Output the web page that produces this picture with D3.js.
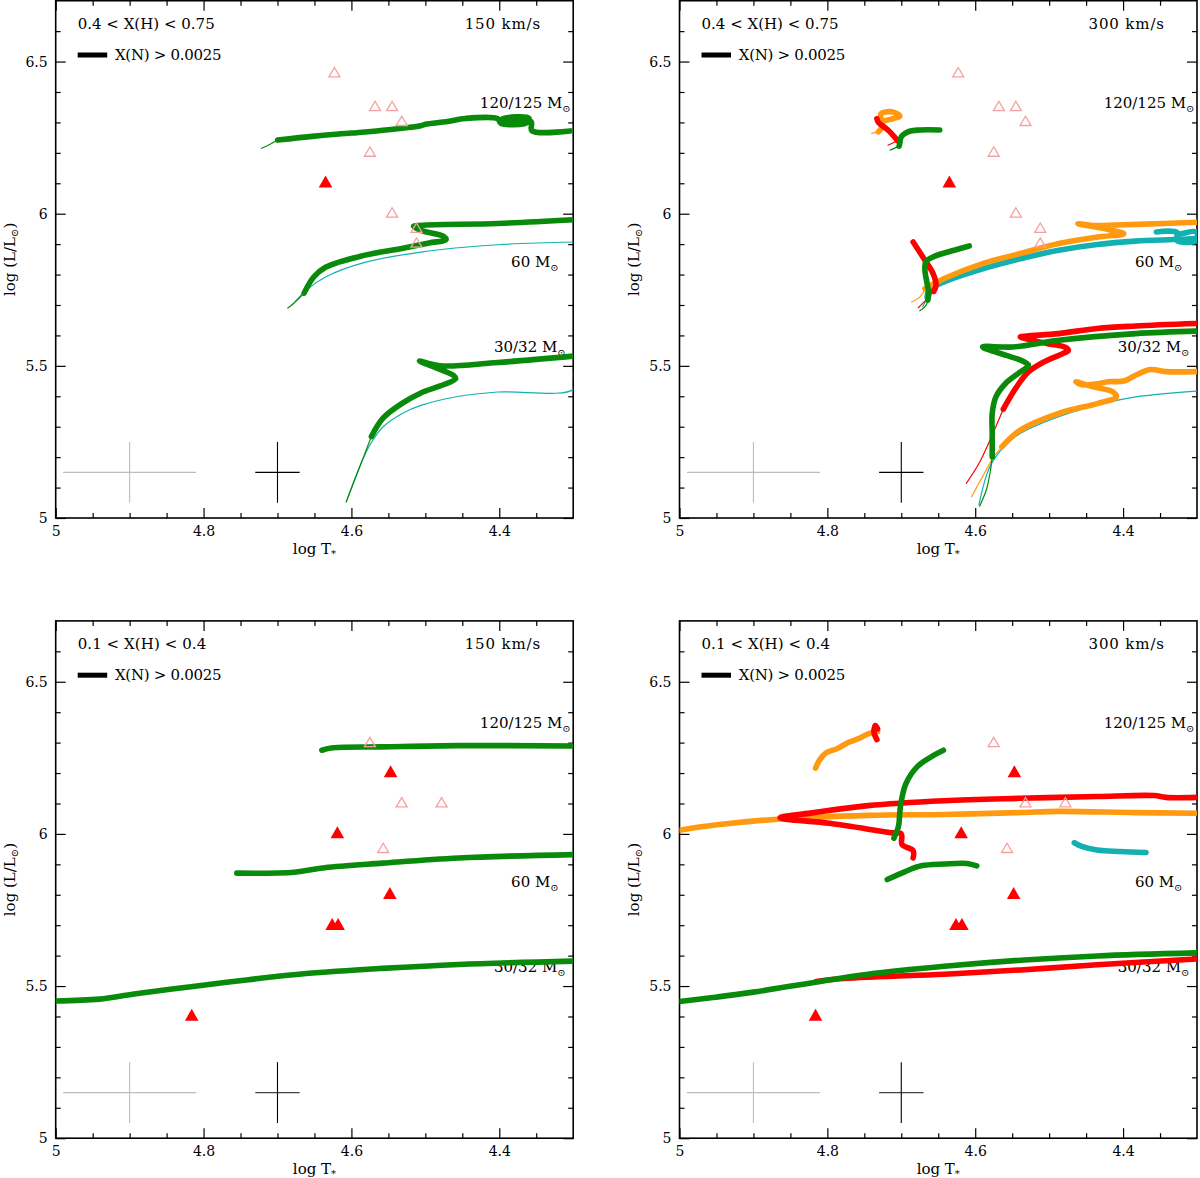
<!DOCTYPE html>
<html><head><meta charset="utf-8">
<script src="https://cdn.jsdelivr.net/npm/d3@7/dist/d3.min.js"></script>
<style>
html,body{margin:0;padding:0;background:#fff;}
text{font-family:"DejaVu Serif",serif;fill:#000;}
</style></head>
<body>
<svg id="chart" width="1200" height="1178"></svg>
<script>
// ---------- axis / tick data ----------
const xDomain = [5, 4.3];
const yDomain = [5, 6.7];
const xMajorTicks = [5, 4.8, 4.6, 4.4];
const xMinorTicks = [4.95, 4.9, 4.85, 4.75, 4.7, 4.65, 4.55, 4.5, 4.45, 4.35];
const yMajorTicks = [5, 5.5, 6, 6.5];
const yMinorTicks = [5.1, 5.2, 5.3, 5.4, 5.6, 5.7, 5.8, 5.9, 6.1, 6.2, 6.3, 6.4, 6.6];

// ---------- panel texts ----------
const panelHRange = ["0.4 < X(H) < 0.75", "0.4 < X(H) < 0.75", "0.1 < X(H) < 0.4", "0.1 < X(H) < 0.4"];
const panelVelocity = ["150 km/s", "300 km/s", "150 km/s", "300 km/s"];
const legendText = "X(N) > 0.0025";
const massLabels = ["120/125", "60", "30/32"];

// ---------- observed stars ----------
const topOpenT = [4.623, 4.568, 4.545, 4.532, 4.575, 4.545, 4.512, 4.512];
const topOpenL = [6.464, 6.353, 6.353, 6.304, 6.203, 6.003, 5.953, 5.904];
const topFilledT = [4.635];
const topFilledL = [6.104];
const botOpenT = [4.575, 4.532, 4.478, 4.557];
const botOpenL = [6.301, 6.103, 6.103, 5.953];
const botFilledT = [4.547, 4.619, 4.548, 4.626, 4.618, 4.816];
const botFilledL = [6.204, 6.004, 5.804, 5.702, 5.702, 5.404];

// error crosses: [centerT, centerL, halfT, halfL]
const errGray = [4.9, 5.15, 0.09, 0.1];
const errBlack = [4.7, 5.15, 0.03, 0.1];

// ---------- tracks, top-left (150 km/s, 0.4<X<0.75) ----------
const tl120GreenThin = [[4.7215,6.215],[4.710,6.228],[4.6998,6.242]];
const tl120GreenThick = [[4.6998,6.242],[4.650,6.255],[4.600,6.265],[4.550,6.276],[4.506,6.289],[4.500,6.294],[4.470,6.303],[4.446,6.313],[4.402,6.312],[4.398,6.297],[4.362,6.300],[4.360,6.314],[4.396,6.311],[4.398,6.300],[4.357,6.303],[4.356,6.273],[4.304,6.272]];
const tl60GreenThin = [[4.686,5.690],[4.675,5.712],[4.664,5.739]];
const tl60GreenThick = [[4.664,5.739],[4.651,5.792],[4.635,5.824],[4.583,5.863],[4.532,5.886],[4.495,5.904],[4.472,5.915],[4.475,5.925],[4.506,5.945],[4.516,5.958],[4.505,5.962],[4.402,5.968],[4.300,5.980]];
const tl60Cyan = [[4.681,5.698],[4.661,5.749],[4.635,5.792],[4.583,5.839],[4.506,5.874],[4.402,5.898],[4.300,5.907]];
const tl30GreenThin = [[4.607,5.053],[4.590,5.160],[4.573,5.268]];
const tl30GreenThick = [[4.573,5.268],[4.557,5.329],[4.532,5.376],[4.506,5.411],[4.480,5.434],[4.459,5.458],[4.462,5.469],[4.485,5.493],[4.508,5.516],[4.480,5.500],[4.402,5.511],[4.300,5.532]];
const tl30Cyan = [[4.607,5.053],[4.592,5.150],[4.575,5.240],[4.557,5.300],[4.530,5.345],[4.506,5.370],[4.454,5.400],[4.402,5.414],[4.300,5.423],[4.300,5.475]];

// ---------- tracks, top-right (300 km/s, 0.4<X<0.75) ----------
const tr120OrangeThin = [[4.740,6.264],[4.731,6.269]];
const tr120OrangeThick = [[4.731,6.269],[4.725,6.291],[4.728,6.327],[4.713,6.335],[4.702,6.321],[4.715,6.310],[4.724,6.305]];
const tr120RedThin = [[4.718,6.225],[4.705,6.240]];
const tr120RedThick = [[4.705,6.240],[4.718,6.275],[4.731,6.300],[4.733,6.312]];
const tr120GreenThin = [[4.715,6.209],[4.703,6.222]];
const tr120GreenThick = [[4.703,6.222],[4.702,6.231],[4.700,6.253],[4.691,6.269],[4.675,6.275],[4.648,6.275]];
const tr60CyanThin = [[4.671,5.694],[4.665,5.725]];
const tr60CyanThick = [[4.665,5.725],[4.663,5.748],[4.642,5.776],[4.590,5.819],[4.539,5.852],[4.487,5.880],[4.435,5.899],[4.383,5.910],[4.332,5.915],[4.301,5.918]];
const tr60CyanHook = [[4.355,5.940],[4.327,5.938],[4.327,5.912],[4.301,5.912],[4.301,5.940],[4.327,5.930]];
const tr60OrangeThin = [[4.686,5.710],[4.675,5.726],[4.668,5.752]];
const tr60OrangeThick = [[4.668,5.754],[4.642,5.787],[4.590,5.836],[4.539,5.869],[4.487,5.902],[4.435,5.923],[4.399,5.934],[4.420,5.948],[4.461,5.967],[4.438,5.961],[4.420,5.962],[4.380,5.965],[4.301,5.972]];
const tr60RedThin = [[4.677,5.691],[4.669,5.710],[4.656,5.745]];
const tr60RedThick = [[4.656,5.745],[4.653,5.765],[4.657,5.803],[4.668,5.847],[4.684,5.907]];
const tr60GreenThin = [[4.675,5.681],[4.667,5.697],[4.664,5.716]];
const tr60GreenThick = [[4.664,5.716],[4.663,5.740],[4.665,5.770],[4.668,5.814],[4.667,5.841],[4.657,5.858],[4.637,5.874],[4.608,5.894]];
const tr30Cyan = [[4.595,5.043],[4.580,5.169],[4.559,5.240],[4.539,5.278],[4.487,5.333],[4.435,5.371],[4.383,5.398],[4.301,5.417]];
const tr30OrangeThin = [[4.605,5.070],[4.590,5.136],[4.575,5.201],[4.564,5.234]];
const tr30OrangeThick = [[4.564,5.234],[4.539,5.289],[4.487,5.344],[4.435,5.376],[4.409,5.398],[4.414,5.415],[4.440,5.431],[4.464,5.448],[4.456,5.438],[4.435,5.441],[4.420,5.448],[4.399,5.450],[4.383,5.469],[4.363,5.488],[4.342,5.481],[4.301,5.481]];
const tr30RedThin = [[4.612,5.114],[4.595,5.179],[4.580,5.256],[4.562,5.358]];
const tr30RedThick = [[4.562,5.358],[4.544,5.431],[4.528,5.480],[4.507,5.513],[4.482,5.540],[4.474,5.551],[4.479,5.562],[4.502,5.573],[4.523,5.584],[4.539,5.595],[4.530,5.598],[4.487,5.606],[4.435,5.623],[4.383,5.631],[4.301,5.639]];
const tr30GreenThin = [[4.594,5.039],[4.585,5.092],[4.580,5.147],[4.577,5.201]];
const tr30GreenThick = [[4.577,5.201],[4.577,5.278],[4.577,5.344],[4.572,5.398],[4.559,5.442],[4.539,5.480],[4.528,5.502],[4.539,5.519],[4.559,5.535],[4.590,5.562],[4.549,5.562],[4.487,5.584],[4.383,5.606],[4.301,5.614]];

// ---------- tracks, bottom-left (150 km/s, 0.1<X<0.4) ----------
const bl120Green = [[4.640,6.275],[4.625,6.283],[4.558,6.286],[4.455,6.290],[4.301,6.289]];
const bl60Green = [[4.755,5.871],[4.677,5.874],[4.636,5.889],[4.558,5.904],[4.455,5.921],[4.301,5.932]];
const bl30Green = [[5.0,5.451],[4.941,5.457],[4.894,5.474],[4.817,5.498],[4.739,5.521],[4.661,5.541],[4.558,5.558],[4.455,5.571],[4.301,5.582]];

// ---------- tracks, bottom-right (300 km/s, 0.1<X<0.4) ----------
const br60Cyan = [[4.466,5.971],[4.456,5.959],[4.435,5.947],[4.404,5.942],[4.369,5.939]];
const br120Orange = [[4.816,6.216],[4.810,6.245],[4.802,6.266],[4.787,6.280],[4.771,6.301],[4.756,6.315],[4.745,6.329],[4.732,6.336]];
const brOrangeLong = [[5.0,6.012],[4.952,6.029],[4.864,6.049],[4.745,6.061],[4.642,6.064],[4.539,6.070],[4.487,6.074],[4.383,6.070],[4.301,6.068]];
const br120RedShort = [[4.733,6.310],[4.737,6.335],[4.735,6.356],[4.732,6.345]];
const br120Red = [[4.684,5.921],[4.684,5.945],[4.699,5.965],[4.700,6.000],[4.714,6.004],[4.797,6.035],[4.864,6.053],[4.818,6.070],[4.745,6.093],[4.642,6.109],[4.539,6.117],[4.435,6.123],[4.358,6.126],[4.342,6.120],[4.301,6.120]];
const br30Red = [[4.815,5.515],[4.797,5.521],[4.745,5.529],[4.642,5.539],[4.539,5.553],[4.435,5.570],[4.301,5.589]];
const br120Green = [[4.710,5.986],[4.704,6.023],[4.701,6.093],[4.694,6.164],[4.678,6.222],[4.657,6.257],[4.643,6.275]];
const br60Green = [[4.719,5.850],[4.694,5.877],[4.673,5.895],[4.642,5.901],[4.611,5.903],[4.598,5.895]];
const br30Green = [[5.0,5.449],[4.952,5.463],[4.900,5.480],[4.818,5.512],[4.745,5.539],[4.642,5.565],[4.539,5.585],[4.435,5.599],[4.301,5.609]];

// ---------- styling ----------
const C = {green:"#0a8a0a", red:"#ff0000", orange:"#ff9a10", cyan:"#12b0b0", pink:"#f5a0a0"};
const THIN = 1.2, THICK = 5.6;

const panelTracks = [
  [ {p:tl60Cyan,c:"cyan",w:THIN},{p:tl30Cyan,c:"cyan",w:THIN},
    {p:tl120GreenThin,c:"green",w:THIN},{p:tl120GreenThick,c:"green",w:THICK},
    {p:tl60GreenThin,c:"green",w:THIN},{p:tl60GreenThick,c:"green",w:THICK},
    {p:tl30GreenThin,c:"green",w:THIN},{p:tl30GreenThick,c:"green",w:THICK} ],
  [ {p:tr30Cyan,c:"cyan",w:THIN},{p:tr60CyanThin,c:"cyan",w:THIN},{p:tr60CyanThick,c:"cyan",w:THICK},{p:tr60CyanHook,c:"cyan",w:THICK},
    {p:tr120OrangeThin,c:"orange",w:THIN},{p:tr120OrangeThick,c:"orange",w:THICK},
    {p:tr60OrangeThin,c:"orange",w:THIN},{p:tr60OrangeThick,c:"orange",w:THICK},
    {p:tr30OrangeThin,c:"orange",w:THIN},{p:tr30OrangeThick,c:"orange",w:THICK},
    {p:tr120RedThin,c:"red",w:THIN},{p:tr120RedThick,c:"red",w:THICK},
    {p:tr60RedThin,c:"red",w:THIN},{p:tr60RedThick,c:"red",w:THICK},
    {p:tr30RedThin,c:"red",w:THIN},{p:tr30RedThick,c:"red",w:THICK},
    {p:tr120GreenThin,c:"green",w:THIN},{p:tr120GreenThick,c:"green",w:THICK},
    {p:tr60GreenThin,c:"green",w:THIN},{p:tr60GreenThick,c:"green",w:THICK},
    {p:tr30GreenThin,c:"green",w:THIN},{p:tr30GreenThick,c:"green",w:THICK} ],
  [ {p:bl120Green,c:"green",w:THICK},{p:bl60Green,c:"green",w:THICK},{p:bl30Green,c:"green",w:THICK} ],
  [ {p:br60Cyan,c:"cyan",w:THICK},
    {p:br120Orange,c:"orange",w:THICK},{p:brOrangeLong,c:"orange",w:THICK},
    {p:br120RedShort,c:"red",w:THICK},{p:br120Red,c:"red",w:THICK},{p:br30Red,c:"red",w:THICK},
    {p:br120Green,c:"green",w:THICK},{p:br60Green,c:"green",w:THICK},{p:br30Green,c:"green",w:THICK} ]
];
const panelOpen = [[topOpenT,topOpenL],[topOpenT,topOpenL],[botOpenT,botOpenL],[botOpenT,botOpenL]];
const panelFilled = [[topFilledT,topFilledL],[topFilledT,topFilledL],[botFilledT,botFilledL],[botFilledT,botFilledL]];

// ---------- layout ----------
const PW = 517.5, PH = 517.3;
const origins = [[55.7,0.7],[679.5,0.7],[55.7,620.9],[679.5,620.9]];
const FONT = "'DejaVu Serif',serif";

const svg = d3.select("#chart");
const x = d3.scaleLinear().domain(xDomain).range([0, PW]);
const y = d3.scaleLinear().domain(yDomain).range([PH, 0]);
const line = d3.line().x(d => x(d[0])).y(d => y(d[1])).curve(d3.curveCatmullRom.alpha(0.5));

origins.forEach((o, i) => {
  const g = svg.append("g").attr("transform", `translate(${o[0]},${o[1]})`);
  const clipId = "clip" + i;
  g.append("clipPath").attr("id", clipId).append("rect").attr("width", PW).attr("height", PH);

  const fmt = d => String(+d.toFixed(2));
  const styleAxis = sel => { sel.select(".domain").remove(); sel.selectAll("line").attr("stroke","#000").attr("stroke-width",1.2);
    sel.selectAll("text").style("font-family",FONT).style("font-size","14px").attr("fill","#000"); };
  g.append("g").attr("transform",`translate(0,${PH})`).call(d3.axisBottom(x).tickValues(xMajorTicks).tickSize(-10).tickPadding(8).tickFormat(fmt)).call(styleAxis);
  g.append("g").attr("transform",`translate(0,${PH})`).call(d3.axisBottom(x).tickValues(xMinorTicks).tickSize(-5).tickFormat("")).call(styleAxis);
  g.append("g").call(d3.axisTop(x).tickValues(xMajorTicks).tickSize(-10).tickFormat("")).call(styleAxis);
  g.append("g").call(d3.axisTop(x).tickValues(xMinorTicks).tickSize(-5).tickFormat("")).call(styleAxis);
  g.append("g").call(d3.axisLeft(y).tickValues(yMajorTicks).tickSize(-10).tickPadding(8).tickFormat(fmt)).call(styleAxis);
  g.append("g").call(d3.axisLeft(y).tickValues(yMinorTicks).tickSize(-5).tickFormat("")).call(styleAxis);
  g.append("g").attr("transform",`translate(${PW},0)`).call(d3.axisRight(y).tickValues(yMajorTicks).tickSize(-10).tickFormat("")).call(styleAxis);
  g.append("g").attr("transform",`translate(${PW},0)`).call(d3.axisRight(y).tickValues(yMinorTicks).tickSize(-5).tickFormat("")).call(styleAxis);
  g.append("rect").attr("width", PW).attr("height", PH).attr("fill","none").attr("stroke","#000").attr("stroke-width",1.6);

  // axis titles
  const xt = g.append("text").attr("x", PW/2).attr("y", PH + 36).attr("text-anchor","middle").style("font-size","15px");
  xt.append("tspan").text("log T");
  xt.append("tspan").attr("dy", 3).style("font-size","10px").text("*");
  const yt = g.append("text").attr("transform", `translate(-41,${PH/2}) rotate(-90)`).attr("text-anchor","middle").style("font-size","15px");
  yt.append("tspan").text("log (L/L");
  yt.append("tspan").attr("dy", 3).style("font-size","10px").text("⊙");
  yt.append("tspan").attr("dy", -3).text(")");

  // panel texts
  g.append("text").attr("x", 22).attr("y", 28).style("font-size","15px")
    .attr("textLength", i < 2 ? 137 : 128.5).attr("lengthAdjust","spacing").text(panelHRange[i]);
  g.append("text").attr("x", 484.5).attr("y", 28).attr("text-anchor","end").style("font-size","15px")
    .attr("textLength", 75.5).attr("lengthAdjust","spacing").text(panelVelocity[i]);
  g.append("line").attr("x1", 22).attr("x2", 51.5).attr("y1", 54.3).attr("y2", 54.3).attr("stroke","#000").attr("stroke-width",5);
  g.append("text").attr("x", 59.3).attr("y", 59).style("font-size","15px")
    .attr("textLength", 106.5).attr("lengthAdjust","spacing").text(legendText);

  // mass labels (drawn under the tracks)
  const mlPos = [[515, 107.5], [503, 266.5], [510, 351.5]];
  massLabels.forEach((m, k) => {
    const t = g.append("text").attr("x", mlPos[k][0]).attr("y", mlPos[k][1]).attr("text-anchor","end").style("font-size","15px");
    t.append("tspan").text(m + " M");
    t.append("tspan").attr("dy", 4).style("font-size","10px").text("⊙");
  });

  // error crosses
  [[errGray,"#bdbdbd"],[errBlack,"#000"]].forEach(([e,col]) => {
    g.append("line").attr("x1", x(e[0]-e[2])).attr("x2", x(e[0]+e[2])).attr("y1", y(e[1])).attr("y2", y(e[1]))
      .attr("stroke", i >= 2 && col === "#000" ? "#444" : col).attr("stroke-width", 1.3);
    g.append("line").attr("x1", x(e[0])).attr("x2", x(e[0])).attr("y1", y(e[1]-e[3])).attr("y2", y(e[1]+e[3]))
      .attr("stroke", col).attr("stroke-width", 1.1);
  });

  // tracks
  const tg = g.append("g").attr("clip-path", `url(#${clipId})`);
  panelTracks[i].forEach(tr => {
    tg.append("path").attr("d", line(tr.p)).attr("fill","none").attr("stroke", C[tr.c])
      .attr("stroke-width", tr.w).attr("stroke-linecap","round").attr("stroke-linejoin","round");
  });

  // stars
  const [oT, oL] = panelOpen[i];
  oT.forEach((t, k) => {
    g.append("path").attr("transform", `translate(${x(t)},${y(oL[k])})`)
      .attr("d", "M0,-5 L5.5,4.3 L-5.5,4.3 Z").attr("fill","none").attr("stroke", C.pink).attr("stroke-width",1.3);
  });
  const [fT, fL] = panelFilled[i];
  fT.forEach((t, k) => {
    g.append("path").attr("transform", `translate(${x(t)},${y(fL[k])})`)
      .attr("d", "M0,-6.5 L6.8,5.5 L-6.8,5.5 Z").attr("fill", C.red);
  });
});
</script>
</body></html>
